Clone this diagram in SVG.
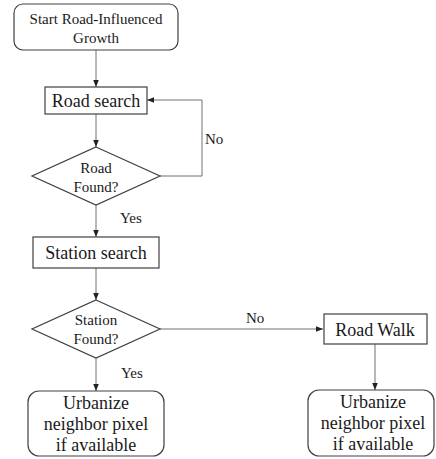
<svg xmlns="http://www.w3.org/2000/svg" width="436" height="459" viewBox="0 0 436 459">
<style>
.box{fill:#fff;stroke:#404040;stroke-width:1.2}
.t{font-family:"Liberation Serif","Times New Roman",serif;fill:#1a1a1a;text-anchor:middle}
.s15{font-size:15px}
.s18{font-size:18px}
.lbl{font-family:"Liberation Serif","Times New Roman",serif;fill:#1a1a1a;font-size:15px}
.c{fill:none;stroke:#707070;stroke-width:1;marker-end:url(#ah)}
</style>
<defs>
<marker id="ah" viewBox="0 0 10 10" refX="10" refY="5" markerWidth="7" markerHeight="7" markerUnits="userSpaceOnUse" orient="auto">
<path d="M0,1 L10,5 L0,9 z" fill="#222"/>
</marker>
</defs>
<rect width="436" height="459" fill="#fff"/>
<g id="connectors">
<path class="c" d="M96,50 V87"/>
<path class="c" d="M96,114 V147"/>
<path class="c" d="M160,176 H202 V100 H147"/>
<path class="c" d="M96,205 V237"/>
<path class="c" d="M96,268 V300"/>
<path class="c" d="M160,329 H323"/>
<path class="c" d="M96,358 V391"/>
<path class="c" d="M375,344 V390"/>
<text class="lbl" x="205" y="144">No</text>
<text class="lbl" x="120" y="223">Yes</text>
<text class="lbl" x="246" y="323">No</text>
<text class="lbl" x="121" y="378">Yes</text>
</g>
<g id="start">
<rect class="box" x="14" y="4" width="164" height="46" rx="9"/>
<text class="t s15" x="96" y="24">Start Road-Influenced</text>
<text class="t s15" x="96" y="43">Growth</text>
</g>
<g id="road-search">
<rect class="box" x="45" y="87" width="102" height="27"/>
<text class="t s18" x="96" y="107">Road search</text>
</g>
<g id="road-found">
<polygon class="box" points="96,147 160,176 96,205 32,176"/>
<text class="t s15" x="96" y="173">Road</text>
<text class="t s15" x="96" y="192">Found?</text>
</g>
<g id="station-search">
<rect class="box" x="33" y="237" width="126" height="31"/>
<text class="t s18" x="96" y="259">Station search</text>
</g>
<g id="station-found">
<polygon class="box" points="96,300 160,329 96,358 32,329"/>
<text class="t s15" x="96" y="325">Station</text>
<text class="t s15" x="96" y="344">Found?</text>
</g>
<g id="urbanize-left">
<rect class="box" x="28" y="391" width="136" height="65" rx="11"/>
<text class="t s18" x="96" y="409">Urbanize</text>
<text class="t s18" x="96" y="430">neighbor pixel</text>
<text class="t s18" x="96" y="451">if available</text>
</g>
<g id="road-walk">
<rect class="box" x="324" y="314" width="103" height="30"/>
<text class="t s18" x="375" y="336">Road Walk</text>
</g>
<g id="urbanize-right">
<rect class="box" x="308" y="390" width="126" height="66" rx="11"/>
<text class="t s18" x="373" y="408">Urbanize</text>
<text class="t s18" x="373" y="429">neighbor pixel</text>
<text class="t s18" x="373" y="450">if available</text>
</g>
</svg>
